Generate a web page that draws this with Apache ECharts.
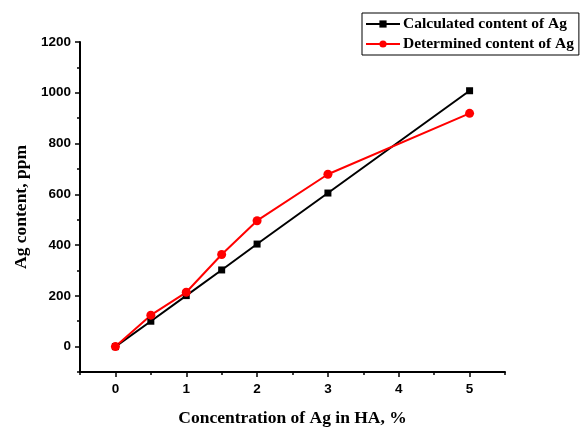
<!DOCTYPE html>
<html><head><meta charset="utf-8">
<script src="https://cdn.jsdelivr.net/npm/echarts@6/dist/echarts.min.js"></script>
<style>html,body{margin:0;padding:0;background:#fff}#c{width:584px;height:428px}</style>
</head><body><div id="c"></div>
<script>
const xValues = [0, 0.5, 1, 1.5, 2, 3, 5];
const calculated = [0, 100, 201, 302, 404, 605, 1008];
const determined = [0, 124, 214, 363, 496, 679, 919];
const xMajorTicks = [0, 1, 2, 3, 4, 5];
const yMajorTicks = [0, 200, 400, 600, 800, 1000, 1200];
const seriesNames = ['Calculated content of Ag', 'Determined content of Ag'];

const chart = echarts.init(document.getElementById('c'));
const lab = {fontFamily: 'Liberation Sans', fontWeight: 'bold', fontSize: 13.5, color: '#000'};
const nameStyle = {fontFamily: 'Liberation Serif', fontWeight: 'bold', fontSize: 17.5, color: '#000'};
chart.setOption({
  animation: false,
  grid: {left: 80, right: 79, top: 42, bottom: 56, containLabel: false, outerBoundsMode: 'none'},
  legend: {
    orient: 'vertical', left: 362, top: 13,
    data: seriesNames,
    borderColor: '#000', borderWidth: 1, padding: [3, 5, 3, 3],
    itemWidth: 34, itemHeight: 9, itemGap: 4,
    textStyle: {fontFamily: 'Liberation Serif', fontWeight: 'bold', fontSize: 15.5, color: '#000', padding: [0, 0, 0, -2]}
  },
  xAxis: [{
    type: 'value', min: -0.5, max: 5.5, interval: 0.5,
    name: 'Concentration of Ag in HA, %', nameLocation: 'middle', nameGap: 37,
    nameTextStyle: nameStyle,
    axisLine: {show: true, onZero: false, lineStyle: {color: '#000', width: 2}},
    axisTick: {show: true, length: 3, lineStyle: {color: '#000', width: 1.5}},
    axisLabel: Object.assign({margin: 10, formatter: v => Number.isInteger(v) ? String(v) : ''}, lab),
    splitLine: {show: false}
  }, {
    type: 'value', min: -0.5, max: 5.5, position: 'bottom',
    axisLine: {show: false, onZero: false},
    axisTick: {show: true, length: 5, customValues: xMajorTicks, lineStyle: {color: '#000', width: 1.5}},
    axisLabel: {show: false},
    splitLine: {show: false}
  }],
  yAxis: [{
    type: 'value', min: -100, max: 1200, interval: 100,
    name: 'Ag content, ppm', nameLocation: 'middle', nameGap: 48, nameRotate: 90,
    nameTextStyle: nameStyle,
    axisLine: {show: true, onZero: false, lineStyle: {color: '#000', width: 2}},
    axisTick: {show: true, length: 3, lineStyle: {color: '#000', width: 1.5}},
    axisLabel: Object.assign({margin: 9, formatter: v => (v >= 0 && v % 200 === 0) ? String(v) : ''}, lab),
    splitLine: {show: false}
  }, {
    type: 'value', min: -100, max: 1200, position: 'left',
    axisLine: {show: false, onZero: false},
    axisTick: {show: true, length: 5, customValues: yMajorTicks, lineStyle: {color: '#000', width: 1.5}},
    axisLabel: {show: false},
    splitLine: {show: false}
  }],
  series: [{
    name: seriesNames[0], type: 'line',
    data: xValues.map((x, i) => [x, calculated[i]]),
    symbol: 'rect', symbolSize: 7,
    lineStyle: {color: '#000', width: 2}, itemStyle: {color: '#000'}
  }, {
    name: seriesNames[1], type: 'line',
    data: xValues.map((x, i) => [x, determined[i]]),
    symbol: 'circle', symbolSize: 9,
    lineStyle: {color: '#ff0000', width: 2}, itemStyle: {color: '#ff0000'}
  }]
});
</script></body></html>
